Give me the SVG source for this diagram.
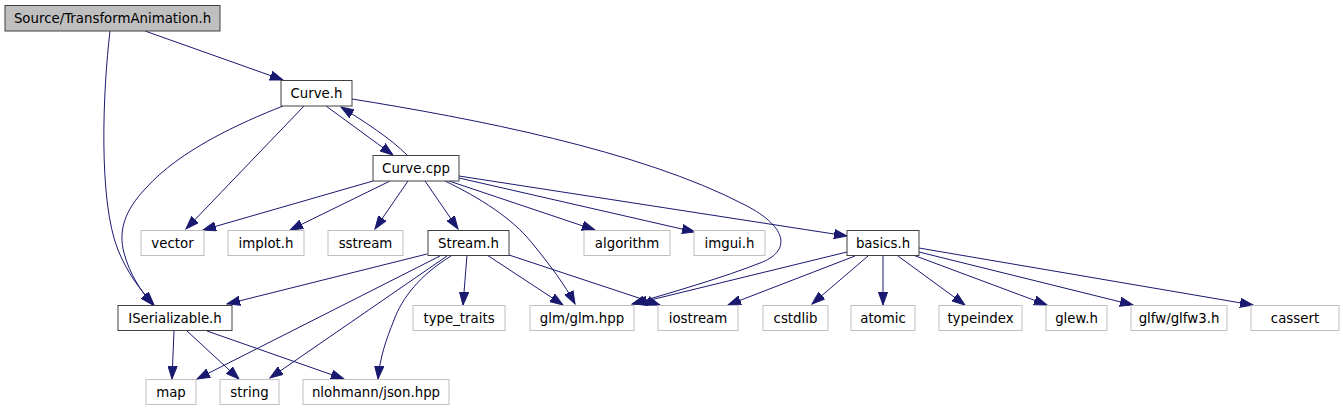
<svg xmlns="http://www.w3.org/2000/svg" width="1343" height="411" viewBox="0 0 1343 411">
<style>
.n rect{fill:#fff;stroke:#404040;stroke-width:1}
.root rect{fill:#bfbfbf;stroke:#404040}
.ext rect{fill:#fff;stroke:#bfbfbf}
text{font-family:"DejaVu Sans","Liberation Sans",sans-serif;font-size:13.33px;fill:#000;text-anchor:middle}
#edges path{fill:none;stroke:#191970;stroke-width:1;marker-end:url(#ah)}
</style>
<defs>
<marker id="ah" markerUnits="userSpaceOnUse" markerWidth="14" markerHeight="10" refX="13" refY="5" orient="auto">
<path d="M0,0.4 L13,5 L0,9.6 z" fill="#191970" stroke="#191970" stroke-width="1"/>
</marker>
</defs>
<rect width="1343" height="411" fill="#fff"/>
<g id="edges">
<path d="M145,31 L283,80"/>
<path d="M110,31 C103,90 98,200 118,250 C127,272 140,290 154,305"/>
<path d="M283,106 C240,123 180,150 146,188 C125,210 118,230 124,253 C130,275 141,291 153,305"/>
<path d="M304,106 L186,229"/>
<path d="M326,106 L393,155"/>
<path d="M407,155 C390,138 365,122 341,107"/>
<path d="M352,99 C470,118 640,150 745,205 C790,228 790,252 760,263 C725,277 670,293 632,304"/>
<path d="M373,181 L203,230"/>
<path d="M390,181 L290,230"/>
<path d="M408,181 L375,229"/>
<path d="M425,181 L458,229"/>
<path d="M445,181 C480,198 512,218 532,243 C550,265 565,285 575,304"/>
<path d="M449,181 L595,230"/>
<path d="M459,178 L695,232"/>
<path d="M459,176 L847,236"/>
<path d="M427,254 L227,304"/>
<path d="M440,256 L197,379"/>
<path d="M447,256 L270,378"/>
<path d="M451,256 C420,275 402,298 394,320 C386,340 380,357 378,379"/>
<path d="M467,255 L463,305"/>
<path d="M487,255 L563,305"/>
<path d="M509,255 L660,305"/>
<path d="M847,252 L634,304"/>
<path d="M855,256 L728,305"/>
<path d="M868,256 L812,304"/>
<path d="M883,256 L883,305"/>
<path d="M898,256 L965,305"/>
<path d="M913,255 L1047,305"/>
<path d="M919,252 L1133,305"/>
<path d="M919,248 L1253,305"/>
<path d="M174,331 L172,379"/>
<path d="M187,331 L239,379"/>
<path d="M207,331 L344,379"/>
</g>
<g id="n-transformanimation" class="n root"><rect x="5" y="5.5" width="215" height="25.5"/><text x="112.5" y="22.5">Source/TransformAnimation.h</text></g>
<g id="n-curve-h" class="n"><rect x="281" y="80.5" width="71" height="25.5"/><text x="316.5" y="97.5">Curve.h</text></g>
<g id="n-curve-cpp" class="n"><rect x="373" y="155.5" width="86" height="25.5"/><text x="416" y="172.5">Curve.cpp</text></g>
<g id="n-vector" class="n ext"><rect x="141" y="230.5" width="63" height="25"/><text x="172.5" y="247.5">vector</text></g>
<g id="n-implot" class="n ext"><rect x="228" y="230.5" width="76" height="25"/><text x="266" y="247.5">implot.h</text></g>
<g id="n-sstream" class="n ext"><rect x="328" y="230.5" width="75" height="25"/><text x="365.5" y="247.5">sstream</text></g>
<g id="n-stream" class="n"><rect x="428" y="230.5" width="81" height="25"/><text x="468.5" y="247.5">Stream.h</text></g>
<g id="n-algorithm" class="n ext"><rect x="584" y="230.5" width="86" height="25"/><text x="627" y="247.5">algorithm</text></g>
<g id="n-imgui" class="n ext"><rect x="694" y="230.5" width="71" height="25"/><text x="729.5" y="247.5">imgui.h</text></g>
<g id="n-basics" class="n"><rect x="847" y="230.5" width="72" height="25"/><text x="883" y="247.5">basics.h</text></g>
<g id="n-iserializable" class="n"><rect x="118" y="305.5" width="114" height="25"/><text x="175" y="322.5">ISerializable.h</text></g>
<g id="n-type-traits" class="n ext"><rect x="413" y="305.5" width="92" height="25"/><text x="459" y="322.5">type_traits</text></g>
<g id="n-glm" class="n ext"><rect x="530" y="305.5" width="104" height="25"/><text x="582" y="322.5">glm/glm.hpp</text></g>
<g id="n-iostream" class="n ext"><rect x="658" y="305.5" width="80" height="25"/><text x="698" y="322.5">iostream</text></g>
<g id="n-cstdlib" class="n ext"><rect x="763" y="305.5" width="65" height="25"/><text x="795.5" y="322.5">cstdlib</text></g>
<g id="n-atomic" class="n ext"><rect x="851" y="305.5" width="64" height="25"/><text x="883" y="322.5">atomic</text></g>
<g id="n-typeindex" class="n ext"><rect x="939" y="305.5" width="83" height="25"/><text x="980.5" y="322.5">typeindex</text></g>
<g id="n-glew" class="n ext"><rect x="1046" y="305.5" width="61" height="25"/><text x="1076.5" y="322.5">glew.h</text></g>
<g id="n-glfw" class="n ext"><rect x="1131" y="305.5" width="96" height="25"/><text x="1179" y="322.5">glfw/glfw3.h</text></g>
<g id="n-cassert" class="n ext"><rect x="1251" y="305.5" width="88" height="25"/><text x="1295" y="322.5">cassert</text></g>
<g id="n-map" class="n ext"><rect x="146" y="379.5" width="50" height="25"/><text x="171" y="396.5">map</text></g>
<g id="n-string" class="n ext"><rect x="220" y="379.5" width="59" height="25"/><text x="249.5" y="396.5">string</text></g>
<g id="n-json" class="n ext"><rect x="303" y="379.5" width="146" height="25"/><text x="376" y="396.5">nlohmann/json.hpp</text></g>
</svg>
